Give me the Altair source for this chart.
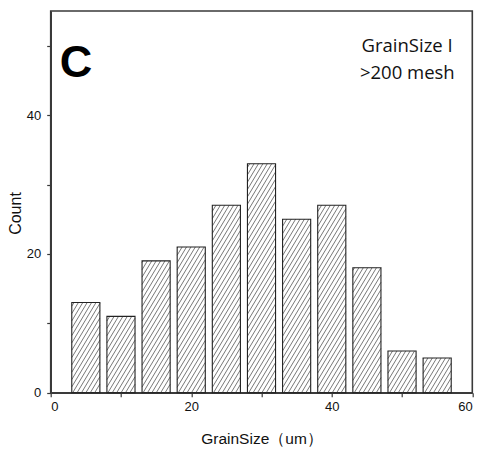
import altair as alt
import pandas as pd

# ---- data ----
bin_centers = [5, 10, 15, 20, 25, 30, 35, 40, 45, 50, 55]
counts = [13, 11, 19, 21, 27, 33, 25, 27, 18, 6, 5]
x_ticks = [0, 10, 20, 30, 40, 50, 60]
y_ticks = [0, 10, 20, 30, 40, 50]
x_title = "GrainSize（um）"
y_title = "Count"
panel_label = "C"
note_line1 = "GrainSize I"
note_line2 = ">200 mesh"

# ---- layout / style ----
W, H = 421.6, 381.7
PAD = {"left": 50.7, "top": 11, "right": 8.7, "bottom": 60.3}
X_DOM = [0, 60]
Y_DOM = [0, 55]
BAR_W = 4.0
SANS = "Liberation Sans Narrow, Arial Narrow, Liberation Sans, Arial, sans-serif"
FRAME = "#3a3a3a"

bars = pd.DataFrame({
    "x0": [c - BAR_W / 2 for c in bin_centers],
    "x1": [c + BAR_W / 2 for c in bin_centers],
    "count": counts,
})

# hatch segments derived from bar extents (data units)
px_x = W / (X_DOM[1] - X_DOM[0])
px_y = H / (Y_DOM[1] - Y_DOM[0])
slope = 0.6 * px_y / px_x          # x-units per y-unit along a hatch line
step = 4.4 / px_x                  # horizontal spacing in x-units
rows = []
for x0, x1, h in zip(bars.x0, bars.x1, bars["count"]):
    k0 = int((x0 - slope * h) / step) - 1
    k1 = int(x1 / step) + 1
    for k in range(k0, k1 + 1):
        c = k * step
        ylo = max(0.0, (x0 - c) / slope)
        yhi = min(float(h), (x1 - c) / slope)
        if yhi - ylo > 1e-6:
            rows.append({"hx": c + slope * ylo, "hy": ylo,
                         "hx2": c + slope * yhi, "hy2": yhi})
hatch = pd.DataFrame(rows)

xscale = alt.Scale(domain=X_DOM, nice=False, zero=False)
yscale = alt.Scale(domain=Y_DOM, nice=False)

x_axis = alt.Axis(
    values=x_ticks, labelExpr="datum.value % 20 == 0 ? datum.label : ''",
    title=x_title, grid=False, tickSize=4, tickColor=FRAME, domainColor=FRAME,
    domainWidth=1.6, tickWidth=1.2, labelFont=SANS, labelFontSize=13,
    labelColor="#111", labelPadding=4, titleFont=SANS, titleFontSize=15.5,
    titleFontWeight="normal", titleColor="#111", titleBaseline="middle",
    titleY=45.5, titleX=W / 2,
)
y_axis = alt.Axis(
    values=y_ticks, labelExpr="datum.value % 20 == 0 ? datum.label : ''",
    title=y_title, grid=False, tickSize=4, tickColor=FRAME, domainColor=FRAME,
    domainWidth=1.6, tickWidth=1.2, labelFont=SANS, labelFontSize=13,
    labelColor="#111", labelPadding=6, titleFont=SANS, titleFontSize=16,
    titleFontWeight="normal", titleColor="#111", titleBaseline="middle",
    titleAngle=270, titleX=-35, titleY=202,
)

hatch_layer = alt.Chart(hatch).mark_rule(color="#555", strokeWidth=0.8).encode(
    x=alt.X("hx:Q", scale=xscale, axis=x_axis),
    x2="hx2:Q",
    y=alt.Y("hy:Q", scale=yscale, axis=y_axis),
    y2="hy2:Q",
)

bar_layer = alt.Chart(bars).mark_rect(
    fill="white", fillOpacity=0, stroke="#222", strokeWidth=1.1
).encode(
    x=alt.X("x0:Q", scale=xscale),
    x2="x1:Q",
    y=alt.Y("count:Q", scale=yscale),
    y2=alt.datum(0),
)

label_layer = alt.Chart(pd.DataFrame({"t": [panel_label]})).mark_text(
    font=SANS, fontSize=45, fontWeight="bold", align="left",
    baseline="alphabetic", color="#000"
).encode(text="t:N", x=alt.value(9), y=alt.value(66))

NOTE_FONT = "Open Sans, Noto Sans, sans-serif"
note1 = alt.Chart(pd.DataFrame({"t": [note_line1]})).mark_text(
    font=NOTE_FONT, fontSize=18.5, align="right", baseline="alphabetic", color="#111"
).encode(text="t:N", x=alt.value(402), y=alt.value(41))
note2 = alt.Chart(pd.DataFrame({"t": [note_line2]})).mark_text(
    font=NOTE_FONT, fontSize=18.5, align="right", baseline="alphabetic", color="#111"
).encode(text="t:N", x=alt.value(404), y=alt.value(68))

chart = alt.layer(hatch_layer, bar_layer, label_layer, note1, note2).properties(
    width=W, height=H,
    autosize=alt.AutoSizeParams(type="none"),
    padding=PAD,
).configure_view(stroke=FRAME, strokeWidth=1.6)

chart.save("out.html", embed_options={"renderer": "svg", "actions": False})
